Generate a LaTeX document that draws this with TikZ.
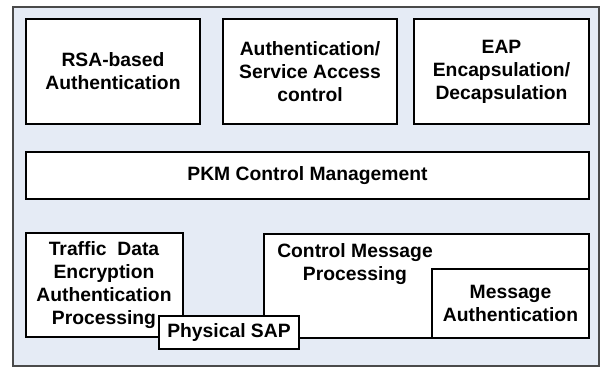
\documentclass[tikz,border=0pt]{standalone}
\usepackage{fontspec}
\setmainfont{Liberation Sans}
\definecolor{bgblue}{HTML}{E5EBF5}
\definecolor{frame}{HTML}{4A4A4A}
\begin{document}
\begin{tikzpicture}[x=1pt,y=1pt,
  blk/.style={draw=black, line width=1.6pt, fill=white, rectangle, inner sep=0pt, outer sep=0pt},
  lbl/.style={font=\fontsize{19.3}{23}\selectfont\bfseries, align=center, inner sep=0pt}]
\useasboundingbox (0,0) rectangle (605,-367);
\node[draw=frame, line width=1.2pt, fill=bgblue, rectangle, inner sep=0pt, minimum width=586, minimum height=359] (outer) at (306,-186.5) {};
% top row
\node[blk, minimum width=174, minimum height=105] (rsa) at (113,-71.5) {};
\node[lbl] at (rsa.center) {RSA-based\\Authentication};
\node[blk, minimum width=174, minimum height=105] (asac) at (310,-71.5) {};
\node[lbl] at (asac.center) {Authentication/\\Service Access\\control};
\node[blk, minimum width=175, minimum height=105] (eap) at (501.5,-71.5) {};
\node[lbl] at (eap.center) {EAP\\Encapsulation/\\Decapsulation};
% PKM
\node[blk, minimum width=563, minimum height=47] (pkm) at (307.5,-175.5) {};
\node[lbl] at (pkm.center) {PKM Control Management};
% bottom row
\node[blk, minimum width=157, minimum height=104] (tdea) at (104.5,-285) {};
\node[lbl] at (104,-285) {Traffic\ \ Data\\Encryption\\Authentication\\Processing};
\node[blk, minimum width=325, minimum height=104] (cmp) at (426.5,-286) {};
\node[lbl, anchor=north] at (355,-243) {Control Message\\Processing};
\node[blk, minimum width=157, minimum height=69] (mauth) at (510.5,-303.5) {};
\node[lbl] at (mauth.center) {Message\\Authentication};
\node[blk, minimum width=140, minimum height=33] (psap) at (229,-332.5) {};
\node[lbl] at (psap.center) {Physical SAP};
\end{tikzpicture}
\end{document}
